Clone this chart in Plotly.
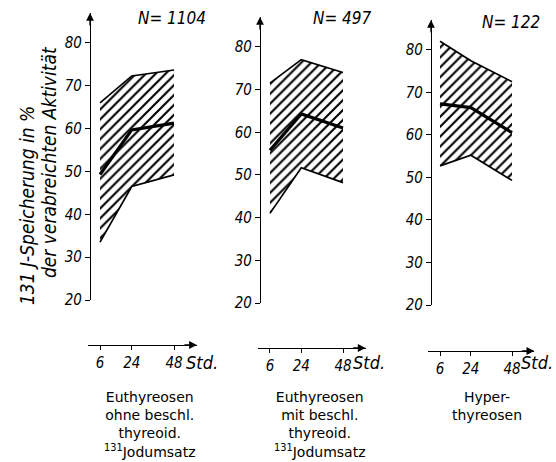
import plotly.graph_objects as go

hours = [6, 24, 48]
p1_upper = [66.0, 72.3, 73.7]
p1_median = [49.3, 59.7, 61.3]
p1_lower = [33.5, 46.5, 49.2]
p2_upper = [71.5, 77.0, 74.0]
p2_median = [55.8, 64.3, 61.0]
p2_lower = [41.0, 51.7, 48.2]
p3_upper = [82.0, 77.4, 72.5]
p3_median = [67.3, 66.4, 60.5]
p3_lower = [52.7, 55.2, 49.3]
y_ticks = [20, 30, 40, 50, 60, 70, 80]
x_ticklabels = ["6", "24", "48"]
n_labels = ["N= 1104", "N= 497", "N= 122"]
group_labels = [
    ["Euthyreosen", "ohne beschl.", "thyreoid.", "<sup>131</sup>Jodumsatz"],
    ["Euthyreosen", "mit beschl.", "thyreoid.", "<sup>131</sup>Jodumsatz"],
    ["Hyper-", "thyreosen"],
]
y_title = ["131 J-Speicherung in %", "der verabreichten Aktivität"]

W, H = 556, 462
panels = [
    dict(up=p1_upper, md=p1_median, lo=p1_lower, xdom=(87.7, 196.9), yaxis_px=90, y20=300, y87=13, xline=345, nx=172, ny=18, gx=150, sx=202),
    dict(up=p2_upper, md=p2_median, lo=p2_lower, xdom=(257.8, 365.6), yaxis_px=260, y20=303, y87=17, xline=348, nx=342, ny=18, gx=320, sx=369),
    dict(up=p3_upper, md=p3_median, lo=p3_lower, xdom=(428.0, 534.3), yaxis_px=431, y20=305, y87=20, xline=351, nx=511, ny=22, gx=487, sx=537),
]
XR = [-1, 61]
YR = [20, 87]
tickfam = "DejaVu Sans Condensed, DejaVu Sans, sans-serif"
txtfam = "DejaVu Sans, sans-serif"


def px(xp):
    return xp / W


def py(yp):
    return 1 - yp / H


fig = go.Figure()
layout = dict(width=W, height=H, margin=dict(l=0, r=0, t=0, b=0, autoexpand=False), autosize=False,
              paper_bgcolor="white", plot_bgcolor="white", showlegend=False)
annotations = []


def label(x, y, text, font, angle=0, yanchor="middle"):
    annotations.append(dict(x=x, y=y, xref="paper", yref="paper", xanchor="center", yanchor=yanchor,
                            text=text, textangle=angle, showarrow=False, font=font, align="center"))


for i, p in enumerate(panels):
    k = "" if i == 0 else str(i + 1)
    xa, ya = "x" + k, "y" + k
    fig.add_trace(go.Scatter(x=hours, y=p["lo"], mode="lines", line=dict(color="black", width=1.7),
                             xaxis=xa, yaxis=ya, hoverinfo="skip"))
    fig.add_trace(go.Scatter(x=hours, y=p["up"], mode="lines", line=dict(color="black", width=1.7),
                             fill="tonexty", fillcolor="white",
                             fillpattern=dict(shape="/", fgcolor="black", bgcolor="white", fgopacity=1,
                                              size=7, solidity=0.3),
                             xaxis=xa, yaxis=ya, hoverinfo="skip"))
    fig.add_trace(go.Scatter(x=hours, y=p["md"], mode="lines", line=dict(color="black", width=3.2),
                             xaxis=xa, yaxis=ya, hoverinfo="skip"))
    ypos = py(p["xline"])
    layout["xaxis" + k] = dict(domain=[px(p["xdom"][0]), px(p["xdom"][1])], range=XR,
                               anchor="free", position=ypos, showgrid=False, zeroline=False,
                               showline=True, linecolor="black", linewidth=1.3, automargin=False,
                               tickvals=hours, ticktext=x_ticklabels, ticks="outside",
                               ticklen=4, tickcolor="black", tickwidth=1.2,
                               tickfont=dict(family=tickfam, size=15, color="black", style="italic"))
    layout["yaxis" + k] = dict(domain=[py(p["y20"]), py(p["y87"])], range=YR,
                               anchor="free", position=px(p["yaxis_px"]), showgrid=False, zeroline=False,
                               showline=True, linecolor="black", linewidth=1.3, automargin=False,
                               tickvals=y_ticks, ticks="outside", ticklen=5, tickcolor="black", tickwidth=1.2,
                               tickfont=dict(family=tickfam, size=15, color="black", style="italic"))
    annotations.append(dict(x=XR[1], y=ypos, xref=xa, yref="paper", ax=-14, ay=0, text="",
                            showarrow=True, arrowhead=2, arrowsize=1.2, arrowwidth=1.3, arrowcolor="black"))
    annotations.append(dict(x=px(p["yaxis_px"]), y=YR[1], xref="paper", yref=ya, ax=0, ay=14, text="",
                            showarrow=True, arrowhead=2, arrowsize=1.2, arrowwidth=1.3, arrowcolor="black"))
    label(px(p["sx"]), py(362), "Std.", dict(family=tickfam, size=18, color="black", style="italic"))
    label(px(p["nx"]), py(p["ny"]), n_labels[i], dict(family=tickfam, size=17, color="black", style="italic"))
    label(px(p["gx"]), py(387), "<br>".join(group_labels[i]),
          dict(family=txtfam, size=14, color="black"), yanchor="top")

label(px(27), py(206), y_title[0], dict(family=tickfam, size=19, color="black", style="italic"), -90)
label(px(49), py(162), y_title[1], dict(family=tickfam, size=19, color="black", style="italic"), -90)
layout["annotations"] = annotations
fig.update_layout(**layout)
fig.write_html("out.html", config={"displayModeBar": False},
               post_script="document.body.style.margin='0px';document.body.style.overflow='hidden';")
